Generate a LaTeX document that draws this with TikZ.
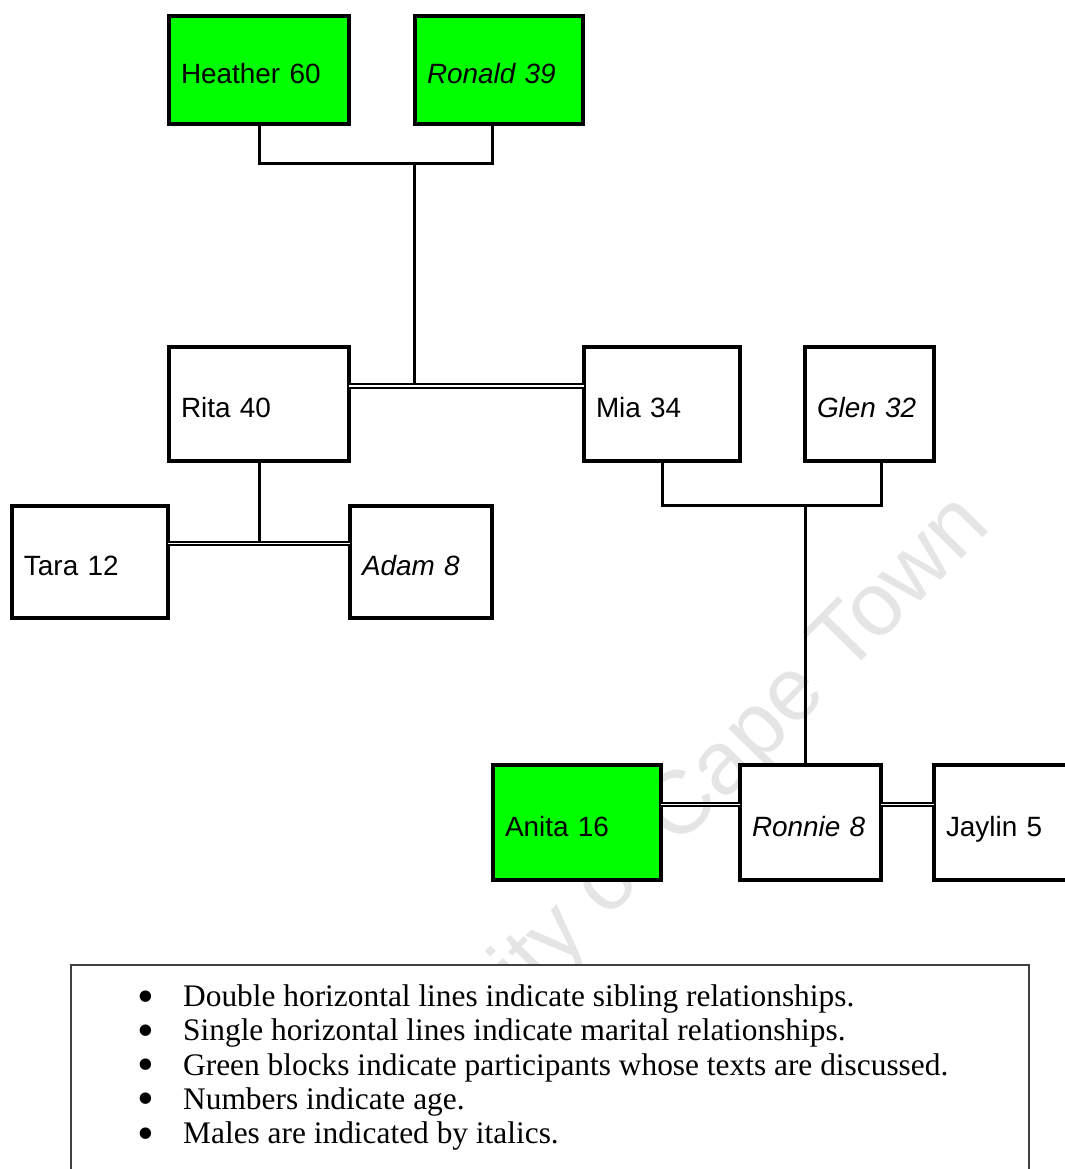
\documentclass[tikz,border=0pt]{standalone}
\usepackage{fontspec}
\setmainfont{Liberation Serif}
\newfontfamily\boxfont{Liberation Sans}
\definecolor{partgreen}{rgb}{0,1,0}
\definecolor{wmgrey}{rgb}{0.9,0.9,0.9}

\begin{document}
\begin{tikzpicture}[yscale=-1,x=1bp,y=1bp,
    person/.style={draw,line width=3.2bp,fill=white,outer sep=0pt,
      inner xsep=12bp,inner ysep=0pt,align=left,
      text height=27bp,text depth=0pt,
      font=\boxfont\fontsize{28}{32}\selectfont},
    discussed/.style={person,fill=partgreen},
    link/.style={line width=3bp},
    sibling/.style={double,line width=2bp,double distance=1.6bp},
    legline/.style={anchor=base west,inner sep=0pt,
      font=\fontsize{31.5}{34}\selectfont}]

  \clip (0,0) rectangle (1065,1169);

  % --- Wasserzeichen ---
  \node[rotate=45.5,anchor=base,text=wmgrey,
    font=\boxfont\fontsize{90}{94}\selectfont] (wm) at (653.5,873) {University of Cape Town};

  % --- Grosseltern ---
  \node[discussed,text width=156bp,minimum height=108bp] (heather) at (259,70) {Heather 60};
  \node[discussed,text width=144bp,minimum height=108bp] (ronald) at (499,70) {\itshape Ronald 39};

  % --- Eltern-Generation ---
  \node[person,text width=156bp,minimum height=114bp] (rita) at (259,404) {Rita 40};
  \node[person,text width=132bp,minimum height=114bp] (mia) at (662,404) {Mia 34};
  \node[person,text width=105bp,minimum height=114bp] (glen) at (869.5,404) {\itshape Glen 32};

  % --- Kinder von Rita ---
  \node[person,text width=132bp,minimum height=112bp] (tara) at (90,562) {Tara 12};
  \node[person,text width=118bp,minimum height=112bp] (adam) at (421,562) {\itshape Adam 8};

  % --- Kinder von Mia und Glen ---
  \node[discussed,text width=144bp,minimum height=115bp] (anita) at (577,822.5) {Anita 16};
  \node[person,text width=117bp,minimum height=115bp] (ronnie) at (810.5,822.5) {\itshape Ronnie 8};
  \node[person,text width=126bp,minimum height=115bp] (jaylin) at (1009,822.5) {Jaylin 5};

  % ======================================================================
  % Verbindungen: einfach = Ehe, doppelt = Geschwister
  % ======================================================================
  \coordinate (hrJoin) at (414.5,163.5);
  \coordinate (rmLine) at (414.5,386);
  \draw[link] (heather.south) |- (hrJoin) -| ([xshift=-7bp]ronald.south);
  \draw[link] (hrJoin) -- (rmLine);
  \draw[sibling] (rita.east |- rmLine) -- (mia.west |- rmLine);

  \coordinate (taLine) at (259,543.5);
  \draw[link] (rita.south) -- (taLine);
  \draw[sibling] (tara.east |- taLine) -- (adam.west |- taLine);

  \coordinate (mgJoin) at (805,505);
  \draw[link] (mia.south) |- (mgJoin) -| ([xshift=11.5bp]glen.south);
  \draw[link] (mgJoin) -- (mgJoin |- ronnie.north);

  \coordinate (arLine) at (700,804.5);
  \draw[sibling] (anita.east |- arLine) -- (ronnie.west |- arLine);
  \draw[sibling] (ronnie.east |- arLine) -- (jaylin.west |- arLine);

  % --- Legende ---
  \draw[line width=2bp,draw=black!75,fill=white] (71,965) rectangle (1029,1190);
  \foreach \txt [count=\i] in {Double horizontal lines indicate sibling relationships.,
      Single horizontal lines indicate marital relationships.,
      Green blocks indicate participants whose texts are discussed.,
      Numbers indicate age.,
      Males are indicated by italics.}
    \node[legline] (leg\i) at (137,{1006.5+34.25*(\i-1)})
      {\makebox[46bp][l]{\raisebox{-5.5bp}{\fontsize{48}{48}\selectfont\textbullet}}\txt};

\end{tikzpicture}
\end{document}
